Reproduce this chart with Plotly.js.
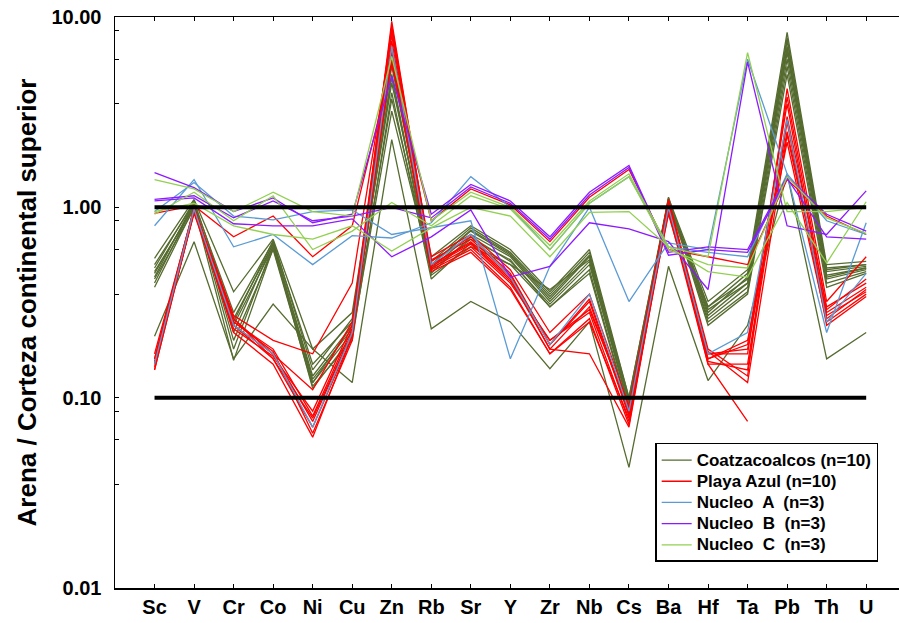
<!DOCTYPE html>
<html>
<head>
<meta charset="utf-8">
<script src="https://cdn.plot.ly/plotly-3.0.1.min.js"></script>
<style>
  html, body { margin: 0; padding: 0; background: #fff; }
  #chart { width: 899px; height: 623px; }
</style>
</head>
<body>
<div id="chart"></div>
<script>
// Elements normalised to the upper continental crust
const elements = ["Sc", "V", "Cr", "Co", "Ni", "Cu", "Zn", "Rb", "Sr", "Y", "Zr", "Nb", "Cs", "Ba", "Hf", "Ta", "Pb", "Th", "U"];

// Coatzacoalcos sands (n = 10)
const coatzacoalcos = [
  [0.21, 0.66, 0.16, 0.31, 0.18, 0.12, 2.27, 0.23, 0.32, 0.25, 0.142, 0.25, 0.043, 0.49, 0.123, 0.24, 1.5, 0.16, 0.22],
  [0.54, 1.10, 0.36, 0.68, 0.18, 0.28, 6.0, 0.55, 0.80, 0.60, 0.36, 0.60, 0.100, 1.12, 0.32, 0.47, 8.3, 0.50, 0.52],
  [0.50, 1.05, 0.28, 0.66, 0.15, 0.25, 5.5, 0.52, 0.78, 0.58, 0.35, 0.58, 0.095, 1.10, 0.30, 0.45, 7.8, 0.48, 0.50],
  [0.48, 1.08, 0.26, 0.64, 0.13, 0.24, 4.5, 0.50, 0.75, 0.56, 0.33, 0.55, 0.090, 1.08, 0.28, 0.43, 7.0, 0.46, 0.49],
  [0.46, 1.00, 0.24, 0.62, 0.12, 0.22, 3.7, 0.48, 0.72, 0.55, 0.32, 0.52, 0.088, 1.10, 0.27, 0.40, 6.5, 0.44, 0.48],
  [0.45, 1.02, 0.22, 0.65, 0.125, 0.23, 5.0, 0.45, 0.70, 0.52, 0.31, 0.50, 0.092, 1.06, 0.26, 0.38, 6.0, 0.42, 0.47],
  [0.43, 1.06, 0.20, 0.60, 0.115, 0.20, 4.0, 0.42, 0.65, 0.50, 0.30, 0.47, 0.085, 1.13, 0.25, 0.36, 5.5, 0.40, 0.46],
  [0.42, 0.98, 0.25, 0.67, 0.14, 0.26, 5.8, 0.50, 0.76, 0.57, 0.34, 0.56, 0.100, 1.09, 0.30, 0.42, 7.5, 0.47, 0.50],
  [0.40, 1.04, 0.18, 0.63, 0.112, 0.21, 3.2, 0.47, 0.68, 0.53, 0.30, 0.45, 0.083, 1.10, 0.24, 0.35, 5.0, 0.38, 0.45],
  [0.38, 1.00, 0.157, 0.61, 0.12, 0.24, 4.8, 0.44, 0.62, 0.50, 0.37, 0.53, 0.097, 1.07, 0.29, 0.40, 6.8, 0.43, 0.48]
];

// Playa Azul sands (n = 10)
const playaAzul = [
  [0.93, 1.02, 0.70, 0.90, 0.55, 0.80, 5.6, 0.85, 1.25, 1.03, 0.66, 1.13, 1.58, 0.60, 0.55, 0.50, 1.40, 0.90, 0.72],
  [0.14, 0.95, 0.24, 0.17, 0.075, 0.22, 9.5, 0.50, 0.65, 0.42, 0.18, 0.30, 0.085, 1.05, 0.16, 0.20, 2.2, 0.25, 0.35],
  [0.15, 0.97, 0.25, 0.18, 0.080, 0.23, 9.0, 0.52, 0.70, 0.45, 0.19, 0.32, 0.080, 1.00, 0.17, 0.18, 2.5, 0.28, 0.38],
  [0.16, 1.00, 0.26, 0.16, 0.070, 0.21, 8.5, 0.48, 0.62, 0.40, 0.20, 0.28, 0.075, 0.95, 0.15, 0.15, 3.0, 0.30, 0.40],
  [0.17, 0.98, 0.27, 0.20, 0.17, 0.40, 8.0, 0.55, 0.72, 0.47, 0.22, 0.35, 0.090, 1.10, 0.18, 0.13, 4.2, 0.32, 0.55],
  [0.15, 0.93, 0.23, 0.165, 0.085, 0.24, 7.5, 0.50, 0.66, 0.43, 0.18, 0.17, 0.070, 1.02, 0.16, 0.19, 3.5, 0.26, 0.37],
  [0.145, 0.96, 0.25, 0.175, 0.065, 0.20, 7.0, 0.47, 0.60, 0.38, 0.17, 0.25, 0.078, 0.98, 0.155, 0.14, 2.8, 0.24, 0.34],
  [0.16, 0.99, 0.24, 0.16, 0.078, 0.22, 6.5, 0.53, 0.68, 0.44, 0.19, 0.33, 0.082, 1.08, 0.17, 0.17, 3.8, 0.29, 0.42],
  [0.155, 0.94, 0.26, 0.17, 0.11, 0.25, 8.8, 0.49, 0.64, 0.41, 0.20, 0.29, 0.088, 0.92, 0.175, 0.12, 2.4, 0.27, 0.36],
  [0.14, 0.97, 0.22, 0.15, 0.062, 0.21, 6.0, 0.46, 0.58, 0.37, 0.17, 0.26, 0.072, 1.04, 0.15, 0.075, null, null, null]
];

// Core samples
const nucleoA = [
  [0.80, 1.40, 0.62, 0.72, 0.50, 0.71, 0.69, 0.83, 1.45, 1.00, 0.60, 1.05, 1.45, 0.62, 0.58, 0.55, 1.50, 0.85, 0.72],
  [0.95, 1.35, 0.90, 0.86, 0.95, 0.97, 0.72, 0.78, 0.85, 0.16, 0.49, 1.00, 0.32, 0.65, 0.60, 6.0, 1.50, 0.22, 0.83],
  [0.15, 0.98, 0.24, 0.17, 0.07, 0.22, 7.0, 0.50, 0.72, 0.43, 0.19, 0.35, 0.085, 1.00, 0.17, 0.22, 2.9, 0.25, 0.45]
];
const nucleoB = [
  [1.52, 1.27, 0.95, 1.12, 0.83, 0.92, 4.9, 0.92, 1.32, 1.08, 0.70, 1.20, 1.66, 0.58, 0.62, 0.60, 1.45, 0.92, 0.75],
  [1.08, 1.12, 0.82, 0.80, 0.80, 0.87, 0.55, 0.70, 0.97, 0.43, 0.49, 0.83, 0.77, 0.66, 0.37, 5.8, 0.80, 0.72, 1.22],
  [1.10, 1.15, 0.88, 1.08, 0.85, 0.90, 1.00, 0.88, 1.28, 1.05, 0.68, 1.16, 1.62, 0.56, 0.60, 0.58, 1.42, 0.70, 0.68]
];
const nucleoC = [
  [1.40, 1.25, 0.95, 1.20, 0.95, 0.90, 6.2, 0.85, 1.20, 1.00, 0.63, 1.08, 1.50, 0.62, 0.55, 6.5, 0.95, 0.95, 1.00],
  [0.92, 1.20, 0.85, 1.15, 0.60, 0.75, 1.06, 0.80, 1.15, 0.98, 0.60, 1.05, 1.45, 0.60, 0.50, 0.48, 1.45, 0.88, 0.73],
  [0.95, 1.05, 0.80, 0.72, 0.68, 0.80, 0.59, 0.78, 1.00, 0.90, 0.55, 0.94, 0.95, 0.62, 0.46, 0.43, 1.06, 0.51, 1.07]
];

// Reference levels drawn as thick black lines
const referenceLevels = [1, 0.1];

// Log-axis ticks: labelled decades plus unlabelled intermediate marks
const yMajorTicks = [0.01, 0.1, 1, 10];
const yMajorLabels = ["0.01", "0.10", "1.00", "10.00"];
const yMinorFactors = [0.85, 0.6, 0.35];

// Legend entry text is set a little larger than the row spacing would give
const legendText = t => '<span style="font-size:17px">' + t + '</span>';

const groups = [
  { name: "Coatzacoalcos (n=10)", rows: coatzacoalcos, color: "#556b2f" },
  { name: "Playa Azul (n=10)", rows: playaAzul, color: "#ff0000" },
  { name: "Nucleo\u00a0 A \u00a0(n=3)", rows: nucleoA, color: "#5b9bd5" },
  { name: "Nucleo\u00a0 B \u00a0(n=3)", rows: nucleoB, color: "#8c1aff" },
  { name: "Nucleo\u00a0 C \u00a0(n=3)", rows: nucleoC, color: "#92d050" }
];

const traces = [];
groups.forEach((g, gi) => {
  g.rows.forEach((row, ri) => {
    traces.push({
      type: "scatter",
      mode: "lines",
      x: elements,
      y: row,
      name: legendText(g.name),
      legendgroup: "g" + gi,
      showlegend: ri === 0,
      line: { color: g.color, width: 1.3 },
      hoverinfo: "skip"
    });
  });
});

referenceLevels.forEach(level => {
  traces.push({
    type: "scatter",
    mode: "lines",
    x: [elements[0], elements[elements.length - 1]],
    y: [level, level],
    showlegend: false,
    line: { color: "#000", width: 4 },
    hoverinfo: "skip"
  });
});

// Build tick arrays for the log axis
const yTickVals = [];
const yTickText = [];
yMajorTicks.forEach((v, i) => {
  yTickVals.push(v);
  yTickText.push(yMajorLabels[i]);
  if (i > 0) {
    yMinorFactors.forEach(f => {
      yTickVals.push(v * f);
      yTickText.push("");
    });
  }
});

const fontFamily = "Liberation Sans, Arial, sans-serif";

const layout = {
  width: 899,
  height: 623,
  margin: { l: 115, r: 0, t: 17, b: 35 },
  paper_bgcolor: "#fff",
  plot_bgcolor: "#fff",
  showlegend: true,
  font: { family: fontFamily, color: "#000" },
  xaxis: {
    type: "category",
    range: [-1, 18.83],
    showgrid: false,
    zeroline: false,
    showline: true,
    linecolor: "#000",
    linewidth: 1.5,
    mirror: "ticks",
    ticks: "inside",
    ticklen: 4,
    tickwidth: 1,
    tickcolor: "#000",
    tickfont: { family: fontFamily, size: 20, color: "#000", weight: "bold" }
  },
  yaxis: {
    type: "log",
    range: [-2, 1],
    showgrid: false,
    zeroline: false,
    showline: true,
    linecolor: "#000",
    linewidth: 1.5,
    ticks: "inside",
    ticklen: 4,
    tickwidth: 1,
    tickcolor: "#000",
    tickmode: "array",
    tickvals: yTickVals,
    ticktext: yTickText,
    ticklabelstandoff: 8,
    tickfont: { family: fontFamily, size: 20, color: "#000", weight: "bold" },
    title: {
      text: "Arena / Corteza continental superior",
      font: { family: fontFamily, size: 26, color: "#000", weight: "bold" },
      standoff: 7
    }
  },
  legend: {
    x: 0.689,
    y: 0.254,
    xanchor: "left",
    yanchor: "top",
    bgcolor: "#fff",
    bordercolor: "#000",
    borderwidth: 1.5,
    itemwidth: 30,
    tracegroupgap: 0,
    font: { family: fontFamily, size: 14, color: "#000", weight: "bold" }
  }
};

Plotly.newPlot("chart", traces, layout, { staticPlot: true, displayModeBar: false });
</script>
</body>
</html>
